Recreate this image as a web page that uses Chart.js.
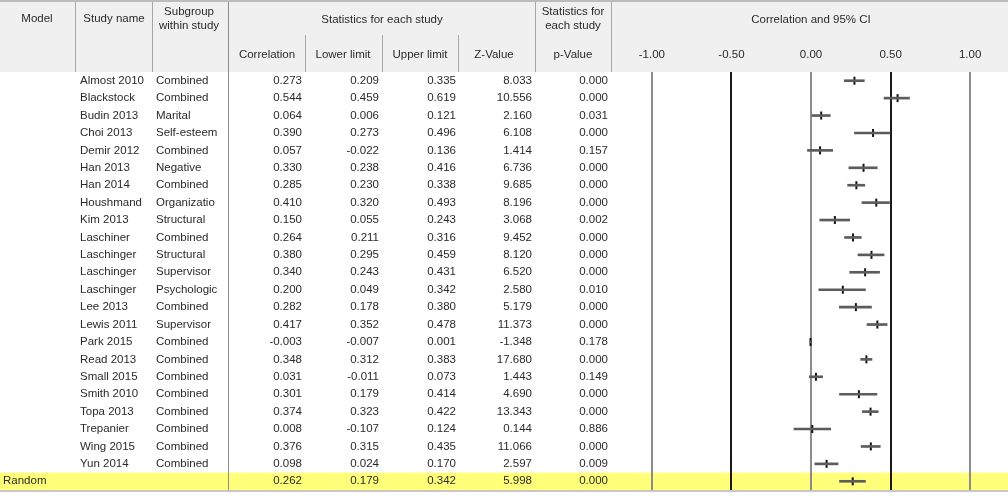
<!DOCTYPE html>
<html>
<head>
<meta charset="utf-8">
<script src="https://cdn.jsdelivr.net/npm/chart.js@4.4.1/dist/chart.umd.min.js"></script>
<style>
  html, body { margin: 0; padding: 0; background: #fff; }
  canvas { display: block; }
</style>
</head>
<body>
<canvas id="forest" width="1008" height="496"></canvas>
<script>
// one entry per study row
const studyNames = ["Almost 2010", "Blackstock", "Budin 2013", "Choi 2013", "Demir 2012", "Han 2013",
  "Han 2014", "Houshmand", "Kim 2013", "Laschiner", "Laschinger", "Laschinger", "Laschinger",
  "Lee 2013", "Lewis 2011", "Park 2015", "Read 2013", "Small 2015", "Smith 2010", "Topa 2013",
  "Trepanier", "Wing 2015", "Yun 2014"];
const subgroups = ["Combined", "Combined", "Marital", "Self-esteem", "Combined", "Negative",
  "Combined", "Organizatio", "Structural", "Combined", "Structural", "Supervisor", "Psychologic",
  "Combined", "Supervisor", "Combined", "Combined", "Combined", "Combined", "Combined",
  "Combined", "Combined", "Combined"];
const correlations = [0.273, 0.544, 0.064, 0.390, 0.057, 0.330, 0.285, 0.410, 0.150, 0.264, 0.380,
  0.340, 0.200, 0.282, 0.417, -0.003, 0.348, 0.031, 0.301, 0.374, 0.008, 0.376, 0.098];
const lowerLimits = [0.209, 0.459, 0.006, 0.273, -0.022, 0.238, 0.230, 0.320, 0.055, 0.211, 0.295,
  0.243, 0.049, 0.178, 0.352, -0.007, 0.312, -0.011, 0.179, 0.323, -0.107, 0.315, 0.024];
const upperLimits = [0.335, 0.619, 0.121, 0.496, 0.136, 0.416, 0.338, 0.493, 0.243, 0.316, 0.459,
  0.431, 0.342, 0.380, 0.478, 0.001, 0.383, 0.073, 0.414, 0.422, 0.124, 0.435, 0.170];
const zValues = [8.033, 10.556, 2.160, 6.108, 1.414, 6.736, 9.685, 8.196, 3.068, 9.452, 8.120,
  6.520, 2.580, 5.179, 11.373, -1.348, 17.680, 1.443, 4.690, 13.343, 0.144, 11.066, 2.597];
const pValues = [0.000, 0.000, 0.031, 0.000, 0.157, 0.000, 0.000, 0.000, 0.002, 0.000, 0.000,
  0.000, 0.010, 0.000, 0.000, 0.178, 0.000, 0.149, 0.000, 0.000, 0.886, 0.000, 0.009];

// random effects summary: correlation, lower, upper, z, p
const summaryModel = "Random";
const summaryValues = [0.262, 0.179, 0.342, 5.998, 0.000];

const tickValues = [-1, -0.5, 0, 0.5, 1];
const tickLabels = ["-1.00", "-0.50", "0.00", "0.50", "1.00"];

// rows = studies + summary line
const rowLabels = studyNames.concat([summaryModel]);
const allCorr = correlations.concat([summaryValues[0]]);
const allLower = lowerLimits.concat([summaryValues[1]]);
const allUpper = upperLimits.concat([summaryValues[2]]);
const allZ = zValues.concat([summaryValues[3]]);
const allP = pValues.concat([summaryValues[4]]);

const FONT = '11.5px "Liberation Sans", Arial, sans-serif';
const INK = '#2a2a2a';
const LINE = '#a8a8a8';

// numeric columns: right edge of the values, centre of the header
const numCols = [
  { title: "Correlation", vals: allCorr, right: 302, mid: 267 },
  { title: "Lower limit", vals: allLower, right: 379, mid: 343 },
  { title: "Upper limit", vals: allUpper, right: 456, mid: 420 },
  { title: "Z-Value", vals: allZ, right: 532, mid: 494 },
  { title: "p-Value", vals: allP, right: 608, mid: 573 }
];

const tablePlugin = {
  id: "table",
  beforeDraw(chart) {
    const { ctx, width, height, chartArea } = chart;
    const y = chart.scales.y;
    const half = (y.getPixelForValue(1) - y.getPixelForValue(0)) / 2;
    const last = rowLabels.length - 1;
    const yc = y.getPixelForValue(last);
    ctx.save();
    ctx.fillStyle = "#fff";
    ctx.fillRect(0, 0, width, height);
    // header block
    ctx.fillStyle = "#f0f0f0";
    ctx.fillRect(0, 0, width, chartArea.top);
    ctx.fillStyle = "#bcbcbc";
    ctx.fillRect(0, 0, width, 2);
    // summary band
    ctx.fillStyle = "#ffff7a";
    ctx.fillRect(0, yc - half, width, half * 2);
    ctx.fillStyle = "#c8c8c8";
    ctx.fillRect(0, yc + half, width, 2);
    // column separators
    ctx.fillStyle = LINE;
    [75, 152, 535, 611].forEach(x => ctx.fillRect(x, 2, 1, chartArea.top - 2));
    [305, 382, 458].forEach(x => ctx.fillRect(x, 35, 1, chartArea.top - 35));
    ctx.fillStyle = "#8a8a8a";
    ctx.fillRect(228, 2, 1, yc + half - 2);
    ctx.restore();
  },
  afterDraw(chart) {
    const { ctx } = chart;
    const x = chart.scales.x;
    const y = chart.scales.y;
    ctx.save();
    ctx.font = FONT;
    ctx.fillStyle = INK;
    ctx.textBaseline = "middle";

    // header
    ctx.textAlign = "center";
    ctx.fillText("Model", 37, 19);
    ctx.fillText("Study name", 114, 19);
    ctx.fillText("Subgroup", 189, 12);
    ctx.fillText("within study", 189, 26);
    ctx.fillText("Statistics for each study", 382, 20);
    ctx.fillText("Statistics for", 573, 12);
    ctx.fillText("each study", 573, 26);
    ctx.fillText("Correlation and 95% CI", 811, 20);
    numCols.forEach(c => ctx.fillText(c.title, c.mid, 55));
    tickValues.forEach((v, i) => ctx.fillText(tickLabels[i], x.getPixelForValue(v), 55));

    // body
    rowLabels.forEach((name, i) => {
      const yp = y.getPixelForValue(i);
      ctx.textAlign = "left";
      if (i < studyNames.length) {
        ctx.fillText(name, 80, yp);
        ctx.fillText(subgroups[i], 156, yp);
      } else {
        ctx.fillText(name, 3, yp);
      }
      ctx.textAlign = "right";
      numCols.forEach(c => ctx.fillText(c.vals[i].toFixed(3), c.right, yp));
    });
    ctx.restore();
  }
};

new Chart(document.getElementById("forest"), {
  type: "bar",
  data: {
    labels: rowLabels,
    datasets: [
      {
        label: "95% CI",
        data: allLower.map((lo, i) => [lo, allUpper[i]]),
        backgroundColor: "#5c5c5c",
        borderWidth: 0,
        barThickness: 2,
        grouped: false
      },
      {
        type: "line",
        label: "Correlation",
        indexAxis: "y",
        data: allCorr,
        showLine: false,
        pointStyle: "line",
        rotation: 90,
        radius: 4,
        borderWidth: 2,
        borderColor: "#111",
        backgroundColor: "#111"
      }
    ]
  },
  options: {
    indexAxis: "y",
    responsive: false,
    animation: false,
    devicePixelRatio: 1,
    layout: { padding: { left: 620, right: 5, top: 72, bottom: 6 } },
    plugins: { legend: { display: false }, tooltip: { enabled: false } },
    scales: {
      x: {
        type: "linear",
        min: -1.2,
        max: 1.2,
        afterBuildTicks: s => { s.ticks = tickValues.map(v => ({ value: v })); },
        ticks: { display: false },
        border: { display: false },
        grid: {
          drawTicks: false,
          lineWidth: 2,
          color: c => (Math.abs(c.tick.value) === 0.5 ? "#1a1a1a" : "#8c8c8c")
        }
      },
      y: {
        type: "category",
        offset: true,
        display: false
      }
    }
  },
  plugins: [tablePlugin]
});
</script>
</body>
</html>
